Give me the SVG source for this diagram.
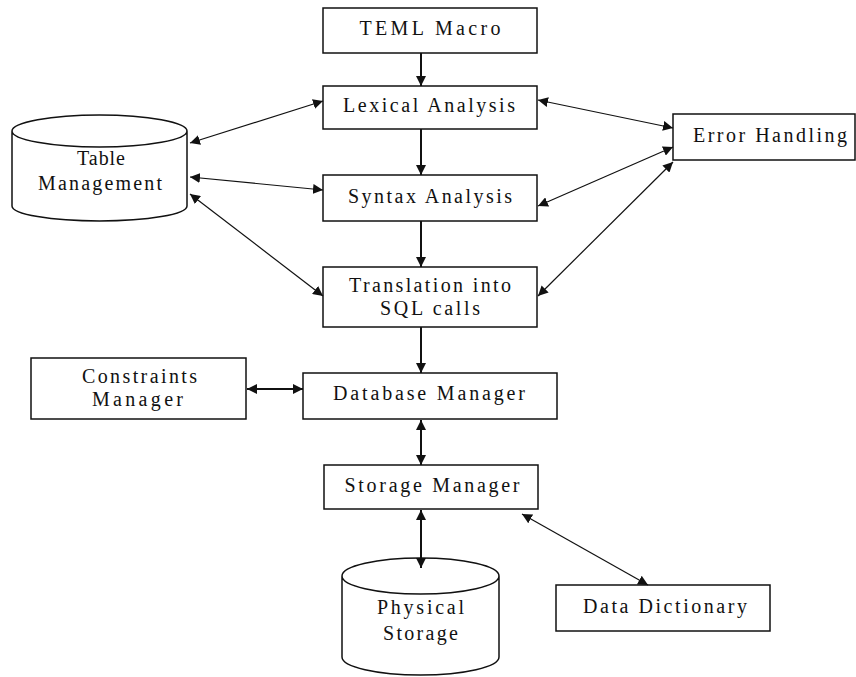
<svg xmlns="http://www.w3.org/2000/svg" width="856" height="677" viewBox="0 0 856 677">
<style>
.box{fill:#fff;stroke:#111;stroke-width:1.5}
.t{font-family:'Liberation Serif','Times New Roman',serif;font-size:20px;fill:#111;text-anchor:middle}
.c{fill:none;stroke:#111;stroke-width:1.2}
.v{fill:none;stroke:#111;stroke-width:2}
</style>
<defs>
<marker id="ah" viewBox="0 0 10 10" refX="10" refY="5" markerWidth="10" markerHeight="10" markerUnits="userSpaceOnUse" orient="auto-start-reverse">
<path d="M0,0 L10,5 L0,10 z" fill="#111"/>
</marker>
</defs>
<rect width="856" height="677" fill="#fff"/>
<g id="teml">
<rect class="box" x="323" y="8" width="214" height="45"/>
<text class="t" x="430" y="35" textLength="141" lengthAdjust="spacing">TEML Macro</text>
</g>
<g id="lexical">
<rect class="box" x="323" y="86" width="214" height="43"/>
<text class="t" x="429" y="112" textLength="172" lengthAdjust="spacing">Lexical Analysis</text>
</g>
<g id="syntax">
<rect class="box" x="323" y="175" width="214" height="46"/>
<text class="t" x="430" y="203" textLength="164" lengthAdjust="spacing">Syntax Analysis</text>
</g>
<g id="translation">
<rect class="box" x="323" y="267" width="214" height="60"/>
<text class="t" x="430" y="292" textLength="162" lengthAdjust="spacing">Translation into</text>
<text class="t" x="430" y="315" textLength="100" lengthAdjust="spacing">SQL calls</text>
</g>
<g id="table-management">
<path class="box" d="M12,131 L12,206 A87.5,15 0 0 0 187,206 L187,131 A87.5,16 0 0 0 12,131 A87.5,16 0 0 0 187,131"/>
<text class="t" x="101" y="165" textLength="48" lengthAdjust="spacing">Table</text>
<text class="t" x="100" y="190" textLength="124" lengthAdjust="spacing">Management</text>
</g>
<g id="error-handling">
<rect class="box" x="673" y="114" width="182" height="46"/>
<text class="t" x="770" y="142" textLength="154" lengthAdjust="spacing">Error Handling</text>
</g>
<g id="constraints">
<rect class="box" x="31" y="358" width="215" height="61"/>
<text class="t" x="139.5" y="383" textLength="115" lengthAdjust="spacing">Constraints</text>
<text class="t" x="137.5" y="406" textLength="91" lengthAdjust="spacing">Manager</text>
</g>
<g id="database-manager">
<rect class="box" x="303" y="373" width="254" height="46"/>
<text class="t" x="429" y="400" textLength="192" lengthAdjust="spacing">Database Manager</text>
</g>
<g id="storage-manager">
<rect class="box" x="324" y="465" width="214" height="44"/>
<text class="t" x="432" y="492" textLength="175" lengthAdjust="spacing">Storage Manager</text>
</g>
<g id="physical-storage">
<path class="box" d="M342,576 L342,657 A78.5,18 0 0 0 499,657 L499,576 A78.5,18 0 0 0 342,576 A78.5,18 0 0 0 499,576"/>
<text class="t" x="420.5" y="614" textLength="87" lengthAdjust="spacing">Physical</text>
<text class="t" x="420.5" y="640" textLength="75" lengthAdjust="spacing">Storage</text>
</g>
<g id="data-dictionary">
<rect class="box" x="556" y="585" width="214" height="46"/>
<text class="t" x="665" y="613" textLength="164" lengthAdjust="spacing">Data Dictionary</text>
</g>
<g id="connectors">
<line class="v" x1="421" y1="53" x2="421" y2="86" marker-end="url(#ah)"/>
<line class="v" x1="421" y1="129" x2="421" y2="175" marker-end="url(#ah)"/>
<line class="v" x1="421" y1="221" x2="421" y2="267" marker-end="url(#ah)"/>
<line class="v" x1="421" y1="327" x2="421" y2="373" marker-end="url(#ah)"/>
<line class="v" x1="421" y1="420" x2="421" y2="465" marker-start="url(#ah)" marker-end="url(#ah)"/>
<line class="v" x1="421" y1="510" x2="421" y2="568" marker-start="url(#ah)" marker-end="url(#ah)"/>
<line class="c" x1="522" y1="514" x2="648" y2="585" marker-start="url(#ah)" marker-end="url(#ah)"/>
<line class="v" x1="247" y1="389" x2="303" y2="389" marker-start="url(#ah)" marker-end="url(#ah)"/>
<line class="c" x1="190" y1="143" x2="323" y2="101" marker-start="url(#ah)" marker-end="url(#ah)"/>
<line class="c" x1="190" y1="177" x2="323" y2="190" marker-start="url(#ah)" marker-end="url(#ah)"/>
<line class="c" x1="190" y1="194" x2="323" y2="296" marker-start="url(#ah)" marker-end="url(#ah)"/>
<line class="c" x1="538" y1="100" x2="673" y2="128" marker-start="url(#ah)" marker-end="url(#ah)"/>
<line class="c" x1="538" y1="206" x2="673" y2="147" marker-start="url(#ah)" marker-end="url(#ah)"/>
<line class="c" x1="538" y1="296" x2="673" y2="162" marker-start="url(#ah)" marker-end="url(#ah)"/>
</g>
</svg>
